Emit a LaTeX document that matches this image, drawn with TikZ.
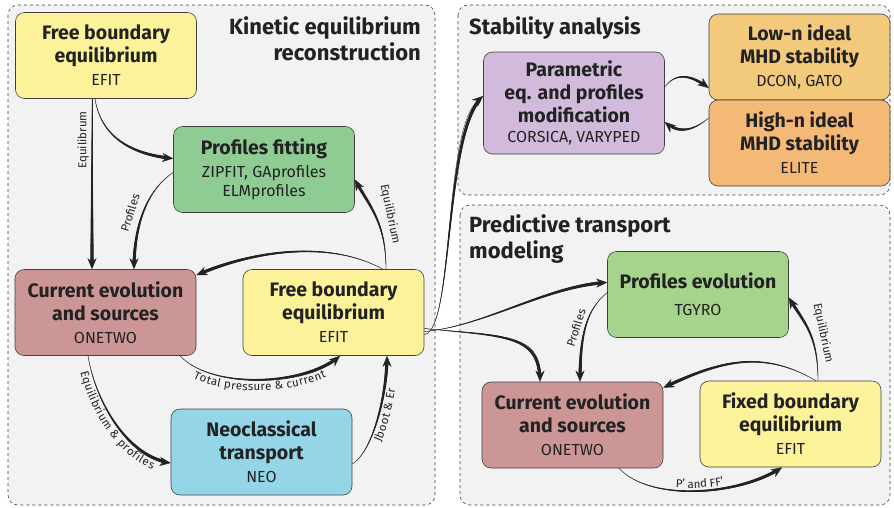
\documentclass[tikz,border=0pt]{standalone}
\usepackage{fontspec}
\setmainfont{Fira Sans}
\usetikzlibrary{arrows.meta,decorations.markings,decorations.text,calc}

\definecolor{grpfill}{HTML}{F2F2F2}
\definecolor{eqyellow}{HTML}{FCF29A}
\definecolor{fitgreen}{HTML}{8ECC94}
\definecolor{currose}{HTML}{CC9696}
\definecolor{neoblue}{HTML}{94D6E8}
\definecolor{parpurple}{HTML}{D1BADB}
\definecolor{loworange}{HTML}{F3C97C}
\definecolor{highorange}{HTML}{F4B877}
\definecolor{evolgreen}{HTML}{A7D48C}
\definecolor{inkgray}{HTML}{222222}

\newcommand\codename[1]{{\mdseries\fontsize{16}{18}\selectfont #1}}

\tikzset{
  grp/.style={draw=black!75, dashed, line width=0.6pt, rounded corners=10pt, fill=grpfill},
  gtitle/.style={inner sep=0pt, font=\fontsize{22}{26}\selectfont\bfseries, text=inkgray},
  box/.style={draw=black!75, line width=0.6pt, rounded corners=9pt,
    minimum width=181pt, minimum height=86pt, inner sep=0pt, align=center,
    text=inkgray, font=\fontsize{19.5}{23}\selectfont\bfseries},
  lab/.style={inner sep=1pt, text=inkgray, font=\fontsize{11.5}{13}\selectfont},
  taper/.style={draw=inkgray, line width=0.35pt, -{Stealth[length=11pt,width=9pt]},
    postaction={decorate, decoration={markings,
      mark=between positions 0 and -8pt step 0.5pt with {
        \pgfmathsetmacro\tapr{0.15+1.65*\pgfkeysvalueof{/pgf/decoration/mark info/distance from start}/\pgfdecoratedpathlength}
        \fill[inkgray] (0,0) circle (\tapr pt);}}}},
  alongtext/.style 2 args={postaction={decorate, decoration={text along path,
      text={|\fontsize{11.5}{13}\selectfont\color{inkgray}|#1}, text align=center, raise=#2}}}
}

\begin{document}
\begin{tikzpicture}[x=1pt, y=-1pt]
\useasboundingbox (0,0) rectangle (894,507);

% group frames
\path[grp] (8,5) rectangle (435,505);
\path[grp] (458,5) rectangle (890,195);
\path[grp] (460,205) rectangle (890,505);

\node[gtitle, anchor=north east, align=right] (tkin) at (421,16) {Kinetic equilibrium\\reconstruction};
\node[gtitle, anchor=north west] (tstab) at (469,16) {Stability analysis};
\node[gtitle, anchor=north west, align=left] (tpred) at (469,214) {Predictive transport\\modeling};

% kinetic equilibrium reconstruction
\node[box, fill=eqyellow] (fb1) at (106,55.5) {Free boundary\\equilibrium\\\codename{EFIT}};
\node[box, fill=fitgreen] (fit) at (264,169.5) {Profiles fitting\\\codename{ZIPFIT, GAprofiles}\\[-4pt]\codename{ELMprofiles}};
\node[box, fill=currose] (cur1) at (105.5,312.5) {Current evolution\\and sources\\\codename{ONETWO}};
\node[box, fill=eqyellow] (fb2) at (333.5,312.5) {Free boundary\\equilibrium\\\codename{EFIT}};
\node[box, fill=neoblue] (neo) at (261.5,452) {Neoclassical\\transport\\\codename{NEO}};

% stability analysis
\node[box, fill=parpurple, minimum height=102pt] (par) at (574,103) {Parametric\\eq. and profiles\\modification\\[-3pt]\codename{CORSICA, VARYPED}};
\node[box, fill=loworange] (low) at (799.5,57) {Low-n ideal\\MHD stability\\\codename{DCON, GATO}};
\node[box, fill=highorange] (high) at (799.5,143) {High-n ideal\\MHD stability\\\codename{ELITE}};

% predictive transport modeling
\node[box, fill=evolgreen] (pev) at (698,294.5) {Profiles evolution\\[4pt]\codename{TGYRO}};
\node[box, fill=currose] (cur2) at (572.5,425) {Current evolution\\and sources\\\codename{ONETWO}};
\node[box, fill=eqyellow] (fix) at (790.5,424) {Fixed boundary\\equilibrium\\\codename{EFIT}};

% connectors, kinetic reconstruction loop
\draw[taper] ([xshift=-14pt]fb1.south) -- ([xshift=-13.5pt]cur1.north);
\node[lab, rotate=90] (lEq1) at (83,140) {Equilibrum};

\draw[taper] ([xshift=-11pt]fb1.south) .. controls +(6,38) and +(-42,-4) .. ([yshift=11pt]fit.west);

\draw[taper] ([yshift=-3pt]fit.west) .. controls +(-24,16) and +(0,-48) .. ([xshift=28.5pt]cur1.north);
\node[lab, rotate=72] (lPr1) at (130,213) {Profiles};

\draw[taper] ([xshift=52.5pt]fb2.north) .. controls +(0,-48) and +(14,26) .. ([yshift=-10pt]fit.east);
\node[lab, rotate=-78] (lEq2) at (390,214) {Equilibrium};

\draw[taper] ([xshift=49.5pt]fb2.north) .. controls +(-55,-30) and +(55,-24) .. ([yshift=-6pt]cur1.north east);

\draw[taper, alongtext={Total pressure {\&} current}{-11pt}] ([xshift=74.5pt]cur1.south) .. controls +(32,34) and +(-34,30) .. ([xshift=6.5pt]fb2.south);

\draw[taper, alongtext={Equilibrium {\&} profiles}{-11pt}] ([xshift=-17.5pt]cur1.south) .. controls +(8,48) and +(-42,-6) .. ([yshift=-11pt]neo.west);

\draw[taper, alongtext={Jboot {\&} Er}{-11pt}] ([yshift=-12pt]neo.east) .. controls +(20,-12) and +(0,40) .. ([xshift=53.5pt]fb2.south);

% connectors leaving the kinetic reconstruction
\draw[taper] ([yshift=-22pt]fb2.east) .. controls +(30,-4) and +(-40,34) .. ([yshift=7pt]par.west);
\draw[taper] ([yshift=-19pt]fb2.east) .. controls +(60,-5) and +(-60,3) .. ([yshift=12pt]pev.west);
\draw[taper] ([yshift=-16pt]fb2.east) .. controls +(80,8) and +(0,-48) .. ([xshift=-32.5pt]cur2.north);

% stability loop
\draw[taper] ([yshift=16pt]par.east) .. controls +(12,-16) and +(-16,-12) .. ([yshift=-31pt]low.west);
\draw[taper] ([yshift=25pt]high.west) .. controls +(-16,13) and +(14,12) .. ([yshift=-19pt]par.east);

% predictive transport loop
\draw[taper] ([yshift=2pt]pev.west) .. controls +(-22,18) and +(0,-44) .. ([xshift=7.5pt]cur2.north);
\node[lab, rotate=72] (lPr2) at (576,328) {Profiles};

\draw[taper] ([xshift=27.5pt]fix.north) .. controls +(0,-48) and +(14,24) .. ([yshift=-3pt]pev.east);
\node[lab, rotate=-78] (lEq3) at (823,333) {Equilibrium};

\draw[taper] ([xshift=25.5pt]fix.north) .. controls +(-55,-32) and +(55,-26) .. ([yshift=-6pt]cur2.north east);

\draw[taper, alongtext={P' and FF'}{3pt}] ([xshift=46.5pt]cur2.south) .. controls +(32,34) and +(-42,28) .. ([xshift=-8.5pt]fix.south);

\end{tikzpicture}
\end{document}
